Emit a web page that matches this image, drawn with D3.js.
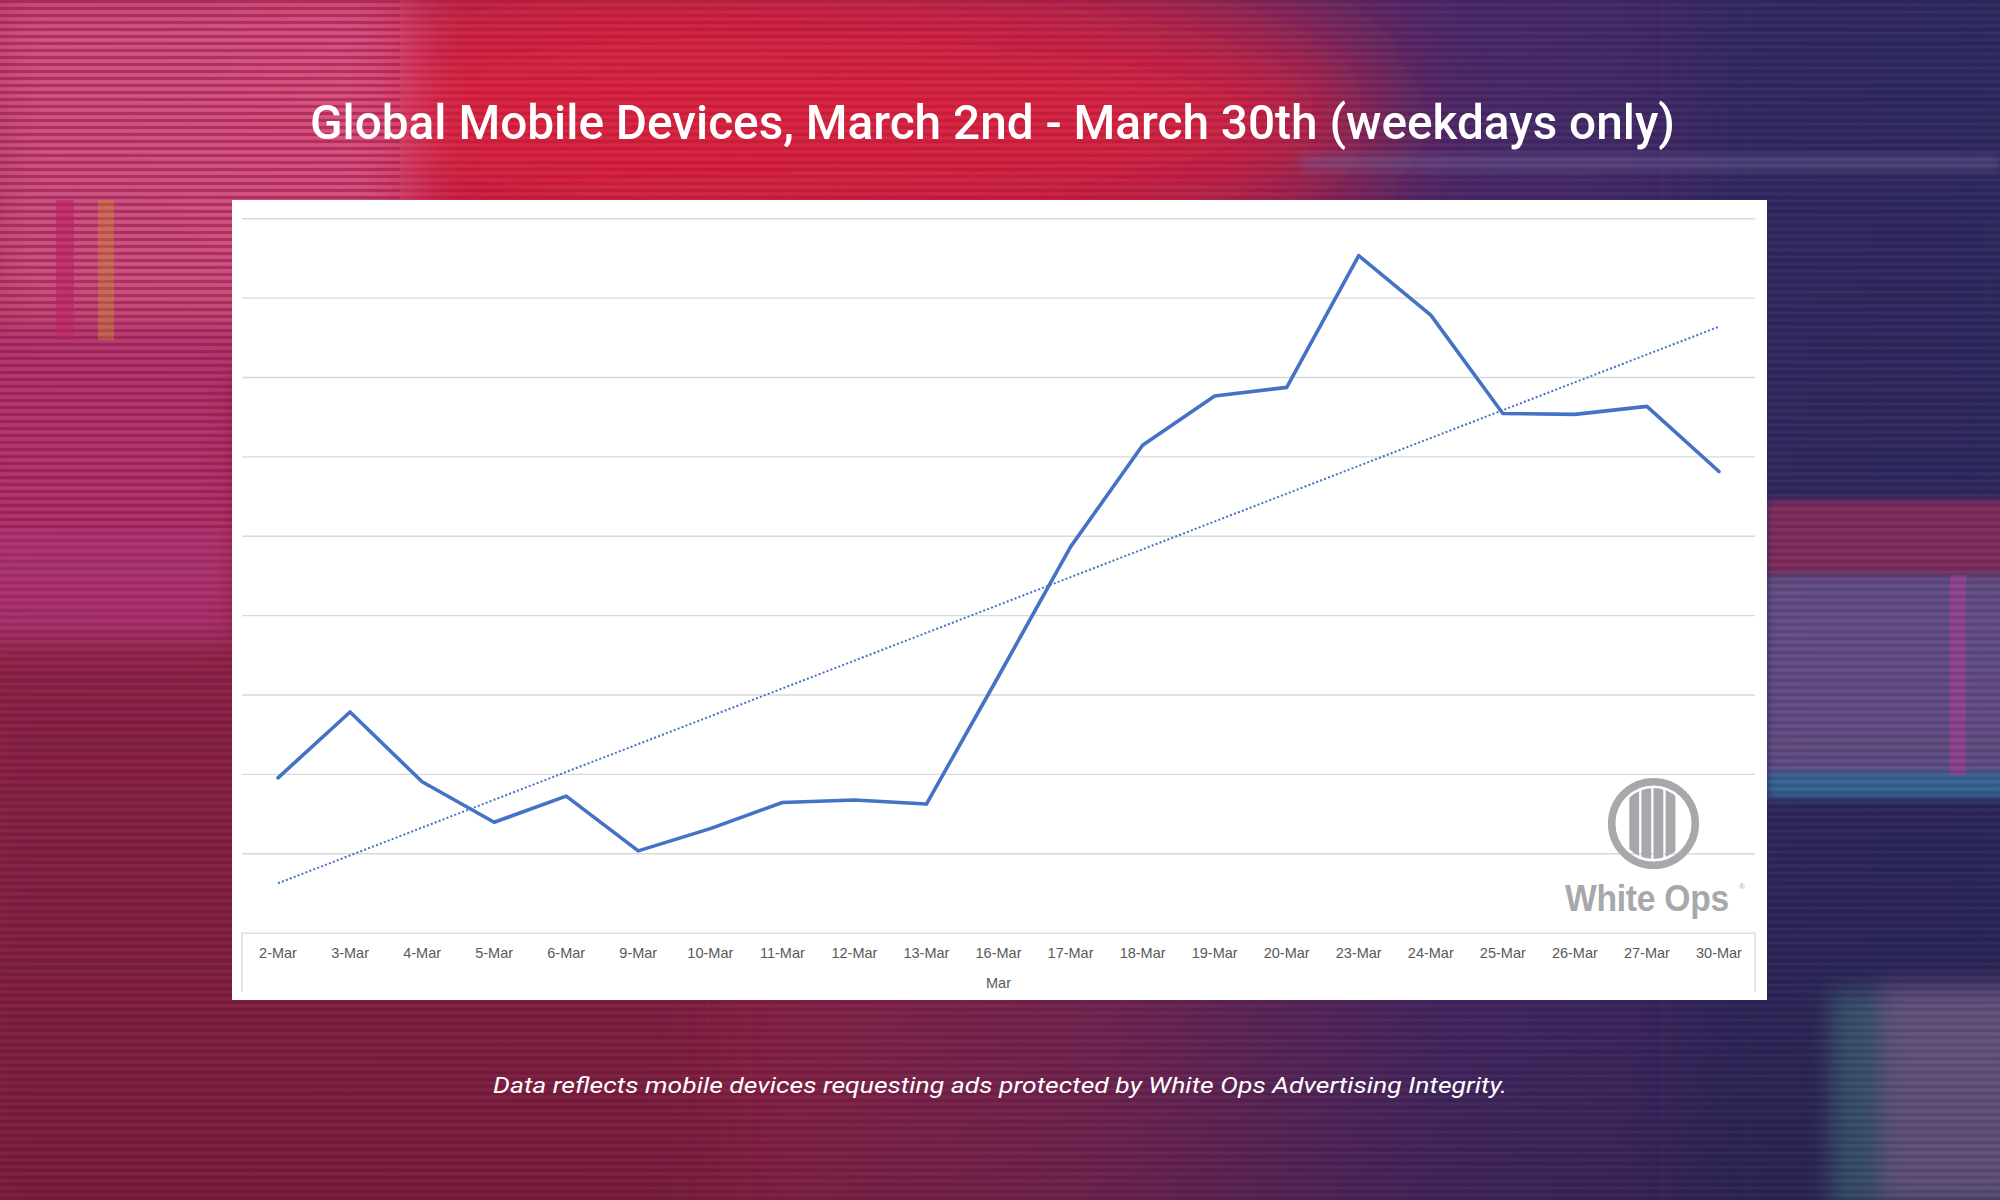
<!DOCTYPE html>
<html>
<head>
<meta charset="utf-8">
<script src="https://cdn.jsdelivr.net/npm/d3@7"></script>
<style>
  html, body { margin: 0; padding: 0; background: #6a2755; }
  svg { display: block; }
</style>
</head>
<body>
<svg id="chart" width="2000" height="1200"></svg>
<script>
// ---------- data ----------
const categories = ["2-Mar","3-Mar","4-Mar","5-Mar","6-Mar","9-Mar","10-Mar","11-Mar","12-Mar","13-Mar",
  "16-Mar","17-Mar","18-Mar","19-Mar","20-Mar","23-Mar","24-Mar","25-Mar","26-Mar","27-Mar","30-Mar"];
// relative device counts (axis values unlabeled in source; read in gridline units)
const devices = [1.95, 2.78, 1.90, 1.39, 1.72, 1.03, 1.31, 1.64, 1.67, 1.62,
  3.23, 4.86, 6.14, 6.76, 6.87, 8.53, 7.78, 6.54, 6.53, 6.63, 5.81];
const gridValues = [0, 1, 2, 3, 4, 5, 6, 7, 8, 9];
const titleText = "Global Mobile Devices, March 2nd - March 30th (weekdays only)";
const axisTitle = "Mar";
const footnote = "Data reflects mobile devices requesting ads protected by White Ops Advertising Integrity.";

const svg = d3.select("#chart");
const defs = svg.append("defs");

// ---------- background ----------
const bgGrad = defs.append("linearGradient").attr("id", "bgGrad").attr("x1", 0).attr("x2", 1).attr("y1", 0).attr("y2", 0);
[[0, "#a2264f"], [0.3, "#a02449"], [0.55, "#7f285a"], [0.72, "#4b2a6b"], [1, "#332a62"]]
  .forEach(([o, c]) => bgGrad.append("stop").attr("offset", o).attr("stop-color", c));
const vGrad = defs.append("linearGradient").attr("id", "vGrad").attr("x1", 0).attr("x2", 0).attr("y1", 0).attr("y2", 1);
[[0, "#000", 0], [0.6, "#000", 0.05], [1, "#000", 0.15]]
  .forEach(([o, c, a]) => vGrad.append("stop").attr("offset", o).attr("stop-color", c).attr("stop-opacity", a));

const blur = (id, sd) => defs.append("filter").attr("id", id).attr("x", "-50%").attr("y", "-50%").attr("width", "200%").attr("height", "200%")
  .append("feGaussianBlur").attr("stdDeviation", sd);
blur("b60", 60); blur("b30", 30); blur("b12", 12); blur("b4", 4);

const stripe = defs.append("pattern").attr("id", "stripes").attr("patternUnits", "userSpaceOnUse")
  .attr("width", 10).attr("height", 7);
stripe.append("rect").attr("width", 10).attr("height", 3).attr("fill", "#000").attr("opacity", 0.09);
stripe.append("rect").attr("y", 4).attr("width", 10).attr("height", 1.5).attr("fill", "#fff").attr("opacity", 0.03);
const stripeStrong = defs.append("pattern").attr("id", "stripesStrong").attr("patternUnits", "userSpaceOnUse")
  .attr("width", 10).attr("height", 7);
stripeStrong.append("rect").attr("width", 10).attr("height", 3).attr("fill", "#b0184a").attr("opacity", 0.45);

const bg = svg.append("g");
bg.append("rect").attr("width", 2000).attr("height", 1200).attr("fill", "url(#bgGrad)");
// red glow top centre
bg.append("ellipse").attr("cx", 780).attr("cy", 120).attr("rx", 600).attr("ry", 150)
  .attr("fill", "#e2223f").attr("opacity", 0.9).attr("filter", "url(#b60)");
bg.append("ellipse").attr("cx", 880).attr("cy", 250).attr("rx", 480).attr("ry", 50)
  .attr("fill", "#d61f45").attr("opacity", 0.65).attr("filter", "url(#b30)");
// pink striped top-left
bg.append("rect").attr("x", -20).attr("y", -20).attr("width", 430).attr("height", 360)
  .attr("fill", "#d95a90").attr("opacity", 0.8).attr("filter", "url(#b30)");
bg.append("rect").attr("x", 0).attr("y", 0).attr("width", 400).attr("height", 330).attr("fill", "url(#stripesStrong)");
// left middle magenta/purple
bg.append("rect").attr("x", -20).attr("y", 330).attr("width", 252).attr("height", 320)
  .attr("fill", "#b8397b").attr("opacity", 0.8).attr("filter", "url(#b12)");
bg.append("rect").attr("x", 0).attr("y", 330).attr("width", 232).attr("height", 200).attr("fill", "url(#stripesStrong)");
bg.append("rect").attr("x", 56).attr("y", 200).attr("width", 18).attr("height", 140).attr("fill", "#c42a6a").attr("opacity", 0.8);
bg.append("rect").attr("x", 98).attr("y", 200).attr("width", 16).attr("height", 140).attr("fill", "#d0803d").attr("opacity", 0.55);
// bottom-left maroon
bg.append("rect").attr("x", -40).attr("y", 650).attr("width", 760).attr("height", 600)
  .attr("fill", "#8c2449").attr("opacity", 0.85).attr("filter", "url(#b30)");
// right navy column
bg.append("rect").attr("x", 1700).attr("y", -40).attr("width", 340).attr("height", 1280)
  .attr("fill", "#2f2a62").attr("opacity", 0.7).attr("filter", "url(#b30)");
// right glitch bands
bg.append("rect").attr("x", 1767).attr("y", 500).attr("width", 240).attr("height", 75)
  .attr("fill", "#a9325f").attr("opacity", 0.7).attr("filter", "url(#b4)");
bg.append("rect").attr("x", 1767).attr("y", 575).attr("width", 240).attr("height", 200)
  .attr("fill", "#8c6aa6").attr("opacity", 0.6).attr("filter", "url(#b4)");
bg.append("rect").attr("x", 1767).attr("y", 772).attr("width", 240).attr("height", 26)
  .attr("fill", "#3f86b8").attr("opacity", 0.7).attr("filter", "url(#b4)");
bg.append("rect").attr("x", 1950).attr("y", 575).attr("width", 16).attr("height", 200).attr("fill", "#a8439a").attr("opacity", 0.7);
// bottom-right glitch
bg.append("rect").attr("x", 1830).attr("y", 990).attr("width", 200).attr("height", 220)
  .attr("fill", "#4d8a8e").attr("opacity", 0.5).attr("filter", "url(#b12)");
bg.append("rect").attr("x", 1880).attr("y", 985).attr("width", 140).attr("height", 220)
  .attr("fill", "#b860a8").attr("opacity", 0.4).attr("filter", "url(#b12)");
// light streak under title right
bg.append("rect").attr("x", 1300).attr("y", 155).attr("width", 700).attr("height", 16)
  .attr("fill", "#7a6aa0").attr("opacity", 0.4).attr("filter", "url(#b4)");
bg.append("rect").attr("width", 2000).attr("height", 1200).attr("fill", "url(#vGrad)");
bg.append("rect").attr("width", 2000).attr("height", 1200).attr("fill", "url(#stripes)");

// ---------- title ----------
svg.append("text")
  .attr("x", 310).attr("y", 139)
  .attr("textLength", 1365).attr("lengthAdjust", "spacingAndGlyphs")
  .attr("font-family", "Roboto, 'Noto Sans', sans-serif")
  .attr("font-weight", 500).attr("font-size", 49).attr("fill", "#ffffff")
  .text(titleText);

// ---------- chart panel ----------
svg.append("rect").attr("x", 232).attr("y", 200).attr("width", 1535).attr("height", 800).attr("fill", "#ffffff");

const plot = { left: 242, right: 1755, top: 218.3, bottom: 932.6 };
const x = d3.scaleBand().domain(categories).range([plot.left, plot.right]).padding(0);
const xc = d => x(d) + x.bandwidth() / 2;
const y = d3.scaleLinear().domain([0, 9]).range([plot.bottom, plot.top]);

// gridlines
const gridAxis = d3.axisLeft(y).tickValues(gridValues).tickSize(-(plot.right - plot.left)).tickFormat("");
const gg = svg.append("g").attr("transform", `translate(${plot.left},0)`).call(gridAxis);
gg.select(".domain").remove();
gg.selectAll(".tick line").attr("stroke", "#d9d9d9").attr("stroke-width", 1.4);

// category axis box sides
svg.append("g").selectAll("line").data([plot.left, plot.right]).join("line")
  .attr("x1", d => d).attr("x2", d => d).attr("y1", plot.bottom).attr("y2", 992)
  .attr("stroke", "#d9d9d9").attr("stroke-width", 1.4);

// x axis labels
const xAxis = d3.axisBottom(x).tickSize(0).tickPadding(15.5);
const xg = svg.append("g").attr("transform", `translate(0,${plot.bottom})`).call(xAxis);
xg.select(".domain").remove();
xg.selectAll("text").attr("font-family", "'Liberation Sans', Arial, sans-serif")
  .attr("font-size", 14.5).attr("fill", "#595959");

svg.append("text").attr("x", (plot.left + plot.right) / 2).attr("y", 987.5)
  .attr("text-anchor", "middle").attr("font-family", "'Liberation Sans', Arial, sans-serif")
  .attr("font-size", 14.5).attr("fill", "#595959").text(axisTitle);

// ---------- logo ----------
const logo = svg.append("g");
const lc = { x: 1653.5, y: 823.5 };
logo.append("circle").attr("cx", lc.x).attr("cy", lc.y).attr("r", 41.8)
  .attr("fill", "none").attr("stroke", "#a7a8ab").attr("stroke-width", 7.5);
defs.append("clipPath").attr("id", "logoClip").append("circle").attr("cx", lc.x).attr("cy", lc.y).attr("r", 35.5);
const barG = logo.append("g").attr("clip-path", "url(#logoClip)");
[0, 1, 2, 3].forEach(i => {
  barG.append("rect").attr("x", 1629.3 + i * 12.1).attr("y", lc.y - 40).attr("width", 9.8).attr("height", 80).attr("fill", "#a7a8ab");
});
logo.append("g").attr("transform", "translate(1565,911) scale(0.91,1)")
  .append("text").attr("x", 0).attr("y", 0)
  .attr("font-family", "'Liberation Sans', Arial, sans-serif").attr("font-weight", "bold")
  .attr("font-size", 37).attr("letter-spacing", -0.3).attr("fill", "#a7a8ab").text("White Ops");
logo.append("text").attr("x", 1739).attr("y", 889).attr("font-family", "'Liberation Sans', Arial, sans-serif")
  .attr("font-size", 8).attr("fill", "#a7a8ab").text("®");

// ---------- trendline (least squares on the data) ----------
const n = devices.length;
const mx = d3.mean(devices, (d, i) => i);
const my = d3.mean(devices);
const slope = d3.sum(devices, (d, i) => (i - mx) * (d - my)) / d3.sum(devices, (d, i) => (i - mx) ** 2);
const icpt = my - slope * mx;
const trend = [0, n - 1].map(i => ({ c: categories[i], v: icpt + slope * i }));
svg.append("path").datum(trend)
  .attr("d", d3.line().x(d => xc(d.c)).y(d => y(d.v)))
  .attr("fill", "none").attr("stroke", "#4472c4").attr("stroke-width", 2)
  .attr("stroke-dasharray", "2,2.2");

// ---------- main line ----------
svg.append("path").datum(devices)
  .attr("d", d3.line().x((d, i) => xc(categories[i])).y(d => y(d)))
  .attr("fill", "none").attr("stroke", "#4472c4").attr("stroke-width", 3.6)
  .attr("stroke-linejoin", "round").attr("stroke-linecap", "round");

// ---------- footnote ----------
svg.append("text").attr("x", 493).attr("y", 1093)
  .attr("textLength", 1014).attr("lengthAdjust", "spacingAndGlyphs")
  .attr("font-family", "Roboto, 'Noto Sans', sans-serif").attr("font-style", "italic")
  .attr("font-size", 22).attr("fill", "#ffffff").text(footnote);
</script>
</body>
</html>
